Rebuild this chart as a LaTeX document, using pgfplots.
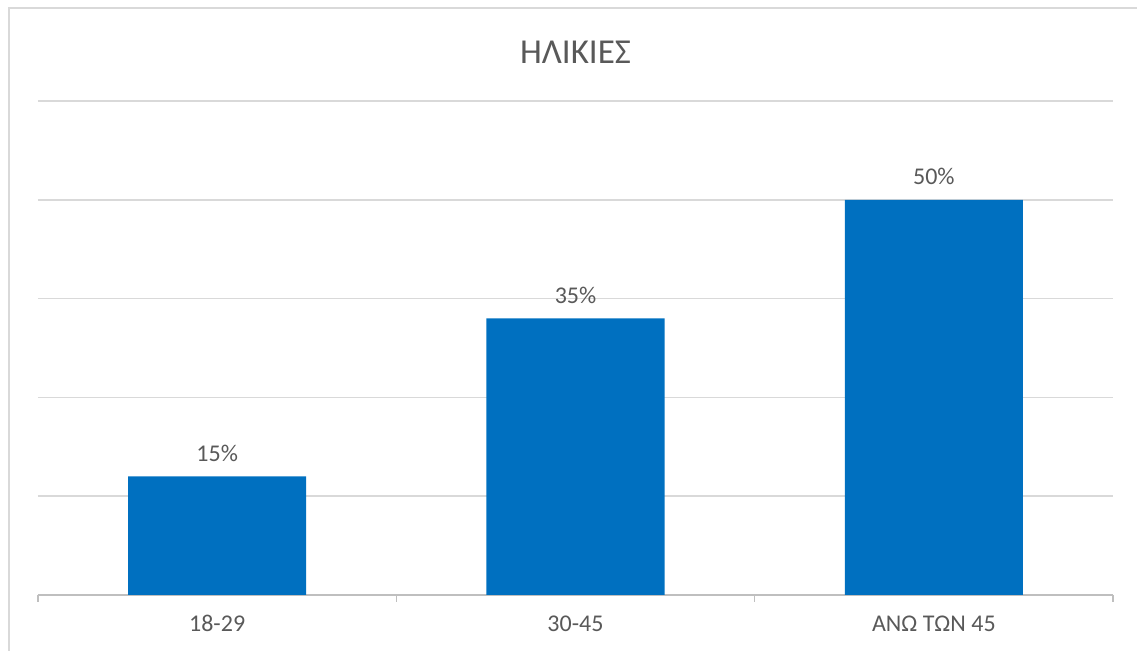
\documentclass[border=0pt]{standalone}
\usepackage{fontspec}
\setmainfont{Carlito}
\usepackage{pgfplots}
\pgfplotsset{compat=1.18}
\definecolor{barblue}{HTML}{0070C0}
\definecolor{txtgray}{HTML}{595959}
\definecolor{gridgray}{HTML}{D9D9D9}
\definecolor{axisgray}{HTML}{BFBFBF}
\begin{document}
\begin{tikzpicture}
  % 1 px of the reference = 0.5pt
  \useasboundingbox (-19pt,-28pt) rectangle (549.5pt,297.5pt);
  \draw[gridgray, line width=1.25pt] (-14.5pt,-28pt) -- (-14.5pt,293.5pt) -- (549.5pt,293.5pt);
  \begin{axis}[
    scale only axis,
    width = 537.5pt,
    height = 247pt,
    ybar,
    bar width = 89pt,
    xmin = -0.5, xmax = 2.5,
    ymin = 0, ymax = 62.5,
    /pgf/number format/assume math mode = true,
    xtick = {-0.5,0.5,1.5,2.5},
    xticklabels = {},
    tick align = outside,
    major tick length = 3.5pt,
    x tick style = {draw=axisgray, line width=0.75pt},
    extra x ticks = {0,1,2},
    extra x tick labels = {18-29, 30-45, ΑΝΩ ΤΩΝ 45},
    extra x tick style = {
      grid = none,
      major tick length = 0pt,
      tick style = {draw=none},
    },
    ytick = {0,12.5,25,37.5,50,62.5},
    yticklabels = {},
    y tick style = {draw=none},
    ymajorgrids,
    major grid style = {draw=gridgray, line width=0.75pt},
    axis x line* = bottom,
    axis y line* = left,
    x axis line style = {-, draw=axisgray, line width=0.75pt},
    y axis line style = {draw=none},
    xticklabel style = {anchor=base, yshift=-18.5pt, font=\fontsize{12}{14}\selectfont, text=txtgray},
    title = {ΗΛΙΚΙΕΣ},
    title style = {at={(0.5,1)}, anchor=center, yshift=18.5pt, font=\fontsize{17.5}{20}\selectfont, text=txtgray},
    nodes near coords = {\pgfmathprintnumber\pgfplotspointmeta\%},
    every node near coord/.append style = {anchor=base, yshift=7.5pt, font=\fontsize{12}{14}\selectfont, text=txtgray},
  ]
    \addplot[fill=barblue, draw=none] coordinates { (0,15) (1,35) (2,50) };
  \end{axis}
\end{tikzpicture}
\end{document}
